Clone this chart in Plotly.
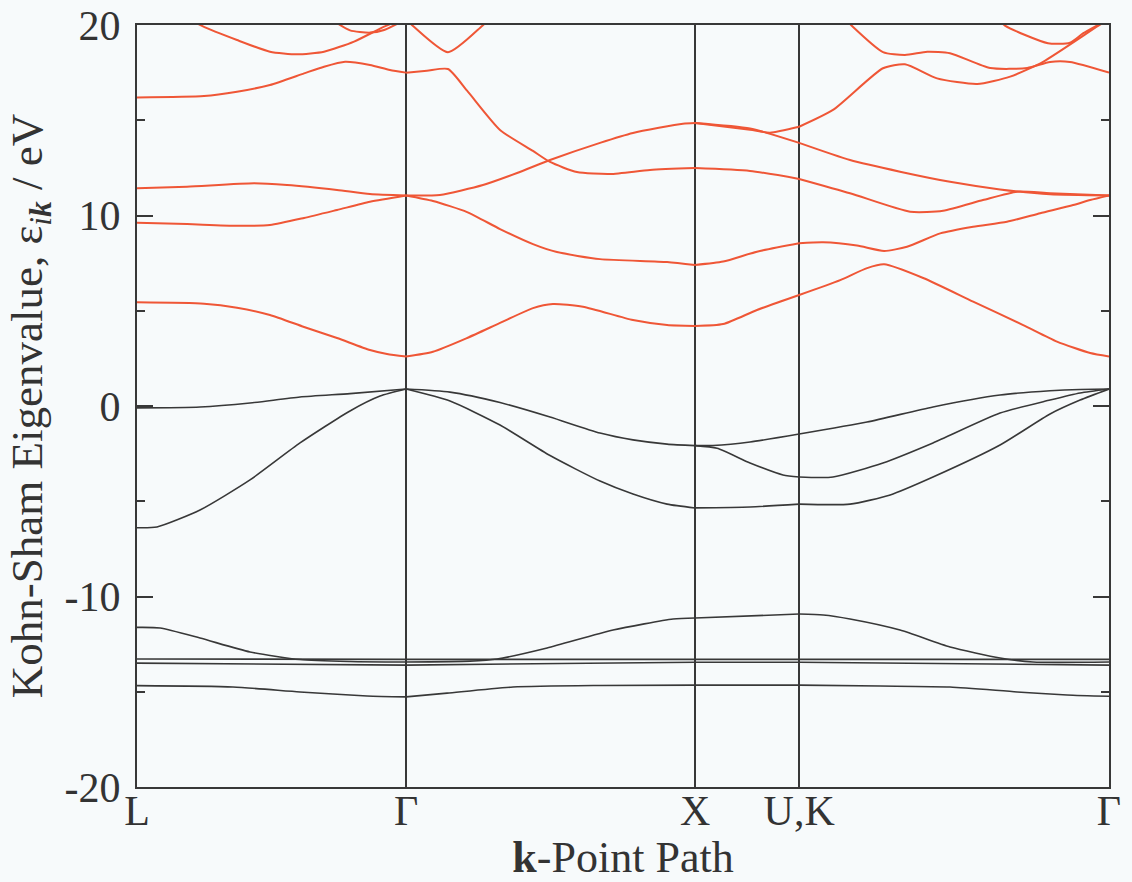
import plotly.graph_objects as go

# High-symmetry points along the k-path (path length, Gamma-X = 1)
K_POS = [0.0, 0.931, 1.931, 2.291, 3.363]
K_LABELS = ["L", "Γ", "X", "U,K", "Γ"]

Y_TICKS = [-20, -10, 0, 10, 20]
Y_TICKTEXT = ["-20", "-10", "0", "10", "20"]
Y_MINOR = [-15, -5, 5, 15]

# ---- occupied (valence) bands, eV ----
v_low_k = [0, 0.332, 0.564, 0.796, 0.931, 1.073, 1.301, 1.602, 1.931, 2.291, 2.571, 2.813, 3.045, 3.218, 3.363]
v_low_e = [-14.68, -14.75, -15.01, -15.22, -15.27, -15.07, -14.75, -14.67, -14.65, -14.65, -14.70, -14.75, -15.01, -15.17, -15.24]

v_flat1_k = [0, 0.931, 1.931, 2.291, 3.363]
v_flat1_e = [-13.28, -13.30, -13.30, -13.30, -13.30]

v_flat2_k = [0, 0.931, 1.931, 2.291, 3.363]
v_flat2_e = [-13.50, -13.60, -13.45, -13.45, -13.60]

v_d_k = [0, 0.080, 0.218, 0.391, 0.564, 0.737, 0.931, 1.152, 1.246, 1.419, 1.647, 1.855, 1.931,
         2.291, 2.374, 2.467, 2.640, 2.813, 2.986, 3.100, 3.363]
v_d_e = [-11.62, -11.65, -12.18, -12.91, -13.31, -13.41, -13.44, -13.39, -13.28, -12.70, -11.76, -11.18, -11.13,
         -10.92, -10.97, -11.18, -11.76, -12.65, -13.23, -13.44, -13.44]

v_lh_k = [0, 0.069, 0.218, 0.391, 0.564, 0.737, 0.841, 0.931, 1.083, 1.256, 1.429, 1.602, 1.716, 1.834, 1.931,
          2.121, 2.291, 2.467, 2.606, 2.754, 2.986, 3.159, 3.263, 3.363]
v_lh_e = [-6.39, -6.35, -5.46, -3.88, -1.94, -0.26, 0.52, 0.89, 0.26, -1.00, -2.60, -3.94, -4.62, -5.15, -5.35,
          -5.30, -5.15, -5.15, -4.67, -3.73, -2.05, -0.42, 0.31, 0.89]

v_hh_k = [0, 0.218, 0.391, 0.564, 0.737, 0.931, 1.083, 1.256, 1.429, 1.602, 1.716, 1.834, 1.931,
          1.993, 2.121, 2.291, 2.526, 2.754, 2.986, 3.159, 3.263, 3.363]
v_hh_e = [-0.10, -0.05, 0.16, 0.47, 0.65, 0.89, 0.73, 0.18, -0.58, -1.42, -1.78, -2.00, -2.08,
          -2.07, -1.89, -1.47, -0.84, -0.05, 0.58, 0.80, 0.87, 0.89]

v_mid_k = [1.931, 2.007, 2.121, 2.235, 2.291, 2.408, 2.581, 2.754, 2.986, 3.159, 3.263, 3.363]
v_mid_e = [-2.08, -2.22, -2.99, -3.62, -3.73, -3.73, -2.99, -1.94, -0.37, 0.31, 0.68, 0.89]

# ---- unoccupied (conduction) bands, eV ----
c1_k = [0, 0.232, 0.346, 0.460, 0.578, 0.692, 0.806, 0.865, 0.931, 1.024, 1.142, 1.256, 1.370, 1.439, 1.543,
        1.716, 1.834, 1.931, 2.028, 2.145, 2.291, 2.433, 2.526, 2.585, 2.720, 2.893, 3.066, 3.183, 3.298, 3.363]
c1_e = [5.44, 5.37, 5.16, 4.78, 4.15, 3.57, 2.94, 2.73, 2.60, 2.85, 3.57, 4.36, 5.14, 5.35, 5.21,
        4.51, 4.25, 4.20, 4.30, 5.04, 5.83, 6.61, 7.24, 7.44, 6.72, 5.48, 4.25, 3.38, 2.78, 2.60]

c2_k = [0, 0.173, 0.346, 0.460, 0.578, 0.692, 0.806, 0.931, 1.024, 1.142, 1.256, 1.370, 1.453, 1.602, 1.834,
        1.931, 2.028, 2.145, 2.291, 2.374, 2.491, 2.585, 2.664, 2.779, 2.893, 3.010, 3.125, 3.239, 3.298, 3.363]
c2_e = [9.62, 9.55, 9.46, 9.50, 9.87, 10.29, 10.72, 11.05, 10.76, 10.18, 9.29, 8.50, 8.08, 7.71, 7.56,
        7.40, 7.58, 8.10, 8.54, 8.59, 8.42, 8.14, 8.36, 9.06, 9.41, 9.67, 10.12, 10.55, 10.81, 11.05]

c3_k = [0, 0.173, 0.405, 0.519, 0.692, 0.806, 0.931, 1.048, 1.197, 1.315, 1.429, 1.602, 1.716, 1.889, 1.931,
        2.121, 2.291, 2.467, 2.640, 2.813, 2.986, 3.159, 3.363]
c3_e = [11.43, 11.51, 11.69, 11.60, 11.34, 11.13, 11.05, 11.08, 11.60, 12.23, 12.91, 13.81, 14.33, 14.82, 14.86,
        14.57, 13.81, 12.91, 12.30, 11.77, 11.37, 11.11, 11.05]

c4_k = [0, 0.232, 0.346, 0.460, 0.578, 0.647, 0.720, 0.806, 0.875, 0.931, 1.003, 1.076, 1.142, 1.256, 1.370,
        1.429, 1.522, 1.637, 1.775, 1.931, 2.121, 2.291, 2.467, 2.675, 2.789, 2.927, 3.045, 3.159, 3.363]
c4_e = [16.20, 16.27, 16.50, 16.85, 17.46, 17.81, 18.07, 17.90, 17.64, 17.50, 17.60, 17.69, 16.55, 14.49, 13.39,
        12.81, 12.28, 12.18, 12.39, 12.49, 12.34, 11.92, 11.17, 10.20, 10.25, 10.81, 11.25, 11.17, 11.05]

c5_k = [0.931, 0.955, 1.076, 1.194, 1.239]
c5_e = [20.30, 19.95, 18.57, 19.95, 20.60]

c6_k = [0.149, 0.225, 0.346, 0.460, 0.554, 0.647, 0.751, 0.855, 0.931]
c6_e = [20.60, 19.95, 19.21, 18.60, 18.46, 18.60, 19.13, 19.91, 20.40]

c7_k = [0.692, 0.737, 0.806, 0.855, 0.931]
c7_e = [20.10, 19.72, 19.60, 19.74, 20.30]

c8_k = [2.433, 2.474, 2.581, 2.657, 2.734, 2.813, 2.952, 3.080, 3.159, 3.228, 3.363]
c8_e = [20.60, 19.95, 18.58, 18.43, 18.60, 18.52, 17.74, 17.74, 18.06, 18.06, 17.50]

c9_k = [1.931, 2.121, 2.190, 2.291, 2.408, 2.581, 2.657, 2.768, 2.907, 3.021, 3.135, 3.325, 3.363]
c9_e = [14.86, 14.50, 14.35, 14.66, 15.54, 17.73, 17.94, 17.20, 16.90, 17.29, 18.07, 19.95, 20.30]

c10_k = [2.970, 3.003, 3.152, 3.228, 3.273, 3.325, 3.363]
c10_e = [20.50, 19.97, 19.04, 19.07, 19.56, 20.00, 20.30]

valence = [(v_low_k, v_low_e), (v_flat1_k, v_flat1_e), (v_flat2_k, v_flat2_e), (v_d_k, v_d_e),
           (v_lh_k, v_lh_e), (v_hh_k, v_hh_e), (v_mid_k, v_mid_e)]
conduction = [(c1_k, c1_e), (c2_k, c2_e), (c3_k, c3_e), (c4_k, c4_e), (c5_k, c5_e), (c6_k, c6_e),
              (c7_k, c7_e), (c8_k, c8_e), (c9_k, c9_e), (c10_k, c10_e)]

DARK = "#383838"
RED = "#ef5636"
BG = "#f7fafb"
FONT = "Liberation Serif"


def segments(k, e):
    """Split a band at the high-symmetry points so each branch is smoothed on its own."""
    out, cur_k, cur_e = [], [], []
    for kk, ee in zip(k, e):
        cur_k.append(kk)
        cur_e.append(ee)
        if any(abs(kk - p) < 1e-6 for p in K_POS[1:-1]) and len(cur_k) > 1:
            out.append((cur_k, cur_e))
            cur_k, cur_e = [kk], [ee]
    if len(cur_k) > 1:
        out.append((cur_k, cur_e))
    return out


fig = go.Figure()
for bands, color, width in ((valence, DARK, 1.6), (conduction, RED, 2.0)):
    for k, e in bands:
        for sk, se in segments(k, e):
            fig.add_trace(go.Scatter(x=sk, y=se, mode="lines",
                                     line=dict(color=color, width=width, shape="spline", smoothing=0.6),
                                     showlegend=False, hoverinfo="skip"))

fig.update_layout(
    width=1132, height=882,
    margin=dict(l=137, r=23, t=25, b=95),
    paper_bgcolor=BG, plot_bgcolor=BG,
    font=dict(family=FONT, color="#333333"),
    showlegend=False,
)

fig.update_xaxes(
    range=[K_POS[0], K_POS[-1]],
    automargin=False,
    tickvals=K_POS, ticktext=K_LABELS,
    ticks="", tickfont=dict(size=42, family=FONT, color="#333333"),
    ticklabelstandoff=-14,
    showgrid=True, gridcolor=DARK, gridwidth=1.8,
    zeroline=False,
    showline=True, linecolor=DARK, linewidth=2, mirror=True,
    title=dict(text="<b>k</b>-Point Path", font=dict(size=44, family=FONT, color="#333333"), standoff=12),
)

fig.update_yaxes(
    range=[-20, 20],
    automargin=False,
    tickvals=Y_TICKS, ticktext=Y_TICKTEXT,
    ticks="inside", ticklen=16, tickwidth=2, tickcolor=DARK,
    minor=dict(tickvals=Y_MINOR, ticks="inside", ticklen=8, tickwidth=2, tickcolor=DARK),
    tickfont=dict(size=42, family=FONT, color="#333333"),
    ticklabelstandoff=6,
    showgrid=False, zeroline=False,
    showline=True, linecolor=DARK, linewidth=2, mirror="ticks",
    title=dict(text="Kohn-Sham Eigenvalue, ε<sub><i>i</i><b><i>k</i></b></sub> / eV",
               font=dict(size=45, family=FONT, color="#333333"), standoff=8),
)

fig.write_html("out.html")
